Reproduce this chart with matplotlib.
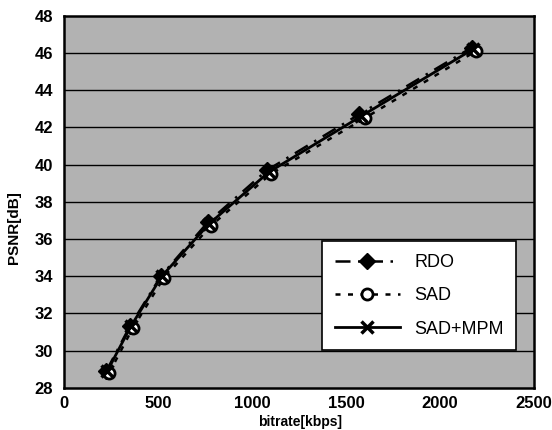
import numpy as np
import matplotlib.pyplot as plt

plt.rcParams['font.family'] = ['Liberation Sans', 'DejaVu Sans']

# --- данные ---
rdo_x = [225, 350, 515, 765, 1080, 1570, 2170]
rdo_y = [28.9, 31.3, 34.0, 36.9, 39.7, 42.7, 46.3]

sad_x = [240, 365, 530, 780, 1100, 1600, 2190]
sad_y = [28.8, 31.2, 33.9, 36.7, 39.5, 42.5, 46.1]

mpm_x = [230, 355, 520, 770, 1090, 1580, 2175]
mpm_y = [28.9, 31.3, 34.0, 36.8, 39.6, 42.6, 46.2]

xticks = [0, 500, 1000, 1500, 2000, 2500]
yticks = [28, 30, 32, 34, 36, 38, 40, 42, 44, 46, 48]

fig = plt.figure(figsize=(5.52, 4.30), dpi=100)
ax = fig.add_axes([0.116, 0.098, 0.851, 0.865])
ax.set_facecolor('#b2b2b2')

for yv in yticks[1:-1]:
    ax.axhline(yv, color='black', lw=1.0, zorder=1)

ax.plot(rdo_x, rdo_y, color='black', ls=(0, (6, 3, 1, 3)), lw=1.8,
        marker='D', ms=8, mfc='black', label='RDO', zorder=3)
ax.plot(sad_x, sad_y, color='black', ls=(0, (2, 3)), lw=1.8,
        marker='o', ms=8, mfc='white', mew=2, label='SAD', zorder=3)
ax.plot(mpm_x, mpm_y, color='black', ls='-', lw=2.0,
        marker='x', ms=9, mew=2.5, label='SAD+MPM', zorder=4)

ax.set_xlim(0, 2500)
ax.set_ylim(28, 48)
ax.set_xticks(xticks)
ax.set_yticks(yticks)
ax.tick_params(axis='y', length=0, labelsize=12, pad=8)
ax.tick_params(axis='x', length=0, labelsize=12, pad=6)
for lab in ax.get_xticklabels() + ax.get_yticklabels():
    lab.set_fontweight('bold')

for s in ax.spines.values():
    s.set_linewidth(1.8)
    s.set_color('black')

leg = ax.legend(loc='upper left', bbox_to_anchor=(0.53, 0.418), fontsize=13,
                handlelength=3.6, labelspacing=0.9, borderpad=0.7,
                frameon=True, fancybox=False, edgecolor='black', framealpha=1)
leg.get_frame().set_linewidth(1.2)

fig.text(0.543, 0.002, 'bitrate[kbps]', ha='center', va='bottom',
         fontsize=10, fontweight='bold')
fig.text(0.025, 0.47, 'PSNR[dB]', ha='center', va='center', rotation=90,
         fontsize=11, fontweight='bold')

plt.savefig('out.png', dpi=100)
